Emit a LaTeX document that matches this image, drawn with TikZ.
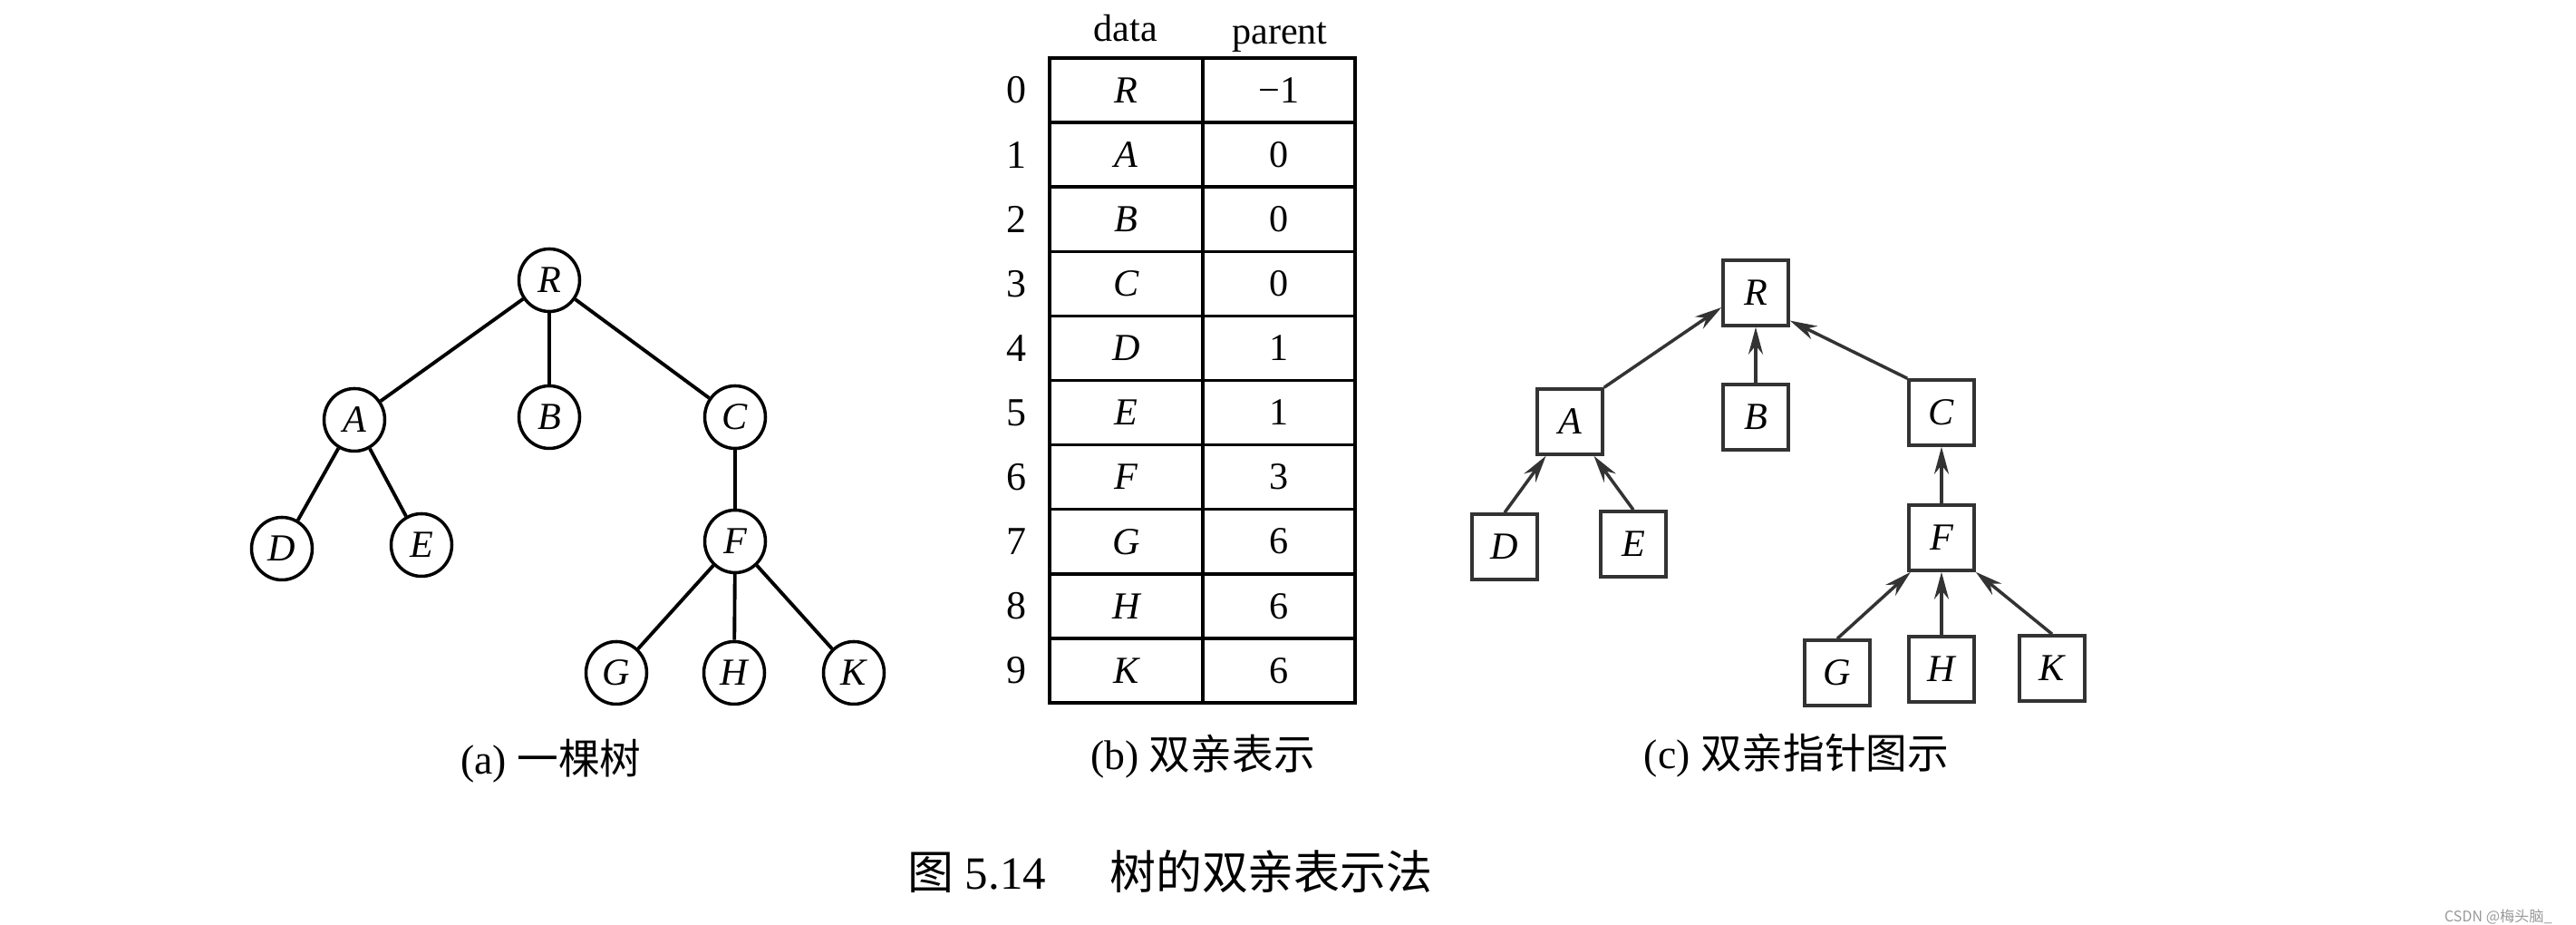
\documentclass[tikz,border=0pt]{standalone}
\usepackage{fontspec}
\setmainfont{Liberation Serif}
\newfontfamily\cjk{Noto Sans CJK SC}
\usepackage{tikz}
\usetikzlibrary{positioning,arrows.meta,shapes.geometric}
\tikzset{
  nodoa/.style={ellipse, draw, line width=1pt, minimum width=0.67cm, minimum height=0.69cm,
    inner sep=0pt, font=\fontsize{12}{14}\selectfont\itshape},
  nodoc/.style={rectangle, draw=black!80, line width=1pt, minimum width=0.72cm, minimum height=0.72cm,
    inner sep=0pt, font=\fontsize{12}{14}\selectfont\itshape},
  rama/.style={line width=1.1pt},
  puntero/.style={-{Stealth[length=3mm,width=1.6mm]}, line width=1pt, draw=black!80},
  celda/.style={rectangle, draw, line width=1pt, minimum height=0.711cm, inner sep=0pt,
    outer sep=0pt, font=\fontsize{12}{14}\selectfont},
  indice/.style={font=\fontsize{12.5}{14}\selectfont},
  cabecera/.style={font=\fontsize{12}{14}\selectfont, anchor=base},
  subtitulo/.style={font=\fontsize{13}{15}\selectfont},
  titulo/.style={font=\fontsize{14.5}{17}\selectfont},
  marca/.style={font=\fontsize{4.6}{5}\selectfont\cjk, text=black!40, anchor=east},
}
\begin{document}
\begin{tikzpicture}
  \path[use as bounding box, fill=white] (0,0) rectangle (28.42,10.20);

  \node[nodoa] (aR) at (6.06,7.11) {R};
  \node[nodoa] (aA) at (3.91,5.57) {A};
  \node[nodoa] (aB) at (6.06,5.60) {B};
  \node[nodoa] (aC) at (8.11,5.60) {C};
  \node[nodoa] (aD) at (3.11,4.15) {D};
  \node[nodoa] (aE) at (4.65,4.19) {E};
  \node[nodoa] (aF) at (8.11,4.23) {F};
  \node[nodoa] (aG) at (6.80,2.78) {G};
  \node[nodoa] (aH) at (8.10,2.78) {H};
  \node[nodoa] (aK) at (9.42,2.78) {K};
  \foreach \a/\b in {R/A,R/B,R/C,A/D,A/E,C/F,F/G,F/H,F/K}
    \draw[rama] (a\a) -- (a\b);
  \node[subtitulo] (capa) at (6.08,1.81) {(a) {\cjk 一棵树}};

  \foreach \d/\p [count=\i from 0] in {R/−1,A/0,B/0,C/0,D/1,E/1,F/3,G/6,H/6,K/6} {
    \node[celda, minimum width=1.69cm, font=\fontsize{12}{14}\selectfont\itshape]
      (d\i) at (12.425,{9.56-0.711*\i-0.3555}) {\d};
    \node[celda, minimum width=1.68cm, right=0pt of d\i] (p\i) {\p};
    \node[indice, left=0.13cm of d\i] (i\i) {\i};
  }
  \node[cabecera] (hdata) at (12.42,9.74) {data};
  \node[cabecera] (hpadre) at (14.12,9.71) {parent};
  \node[subtitulo] (capb) at (13.27,1.86) {(b) {\cjk 双亲表示}};

  \node[nodoc] (cR) at (19.37,6.97) {R};
  \node[nodoc] (cA) at (17.32,5.55) {A};
  \node[nodoc] (cB) at (19.37,5.60) {B};
  \node[nodoc] (cC) at (21.42,5.65) {C};
  \node[nodoc] (cD) at (16.60,4.17) {D};
  \node[nodoc] (cE) at (18.02,4.20) {E};
  \node[nodoc] (cF) at (21.42,4.27) {F};
  \node[nodoc] (cG) at (20.27,2.78) {G};
  \node[nodoc] (cH) at (21.42,2.82) {H};
  \node[nodoc] (cK) at (22.64,2.83) {K};
  \draw[puntero] (cA.north east) -- (cR.203);
  \draw[puntero] (cB) -- (cR);
  \draw[puntero] (cC.north west) -- (cR.321);
  \draw[puntero] (cD.north) -- (cA.235);
  \draw[puntero] (cE.north) -- (cA.305);
  \draw[puntero] (cF) -- (cC);
  \draw[puntero] (cG.north) -- (cF.228);
  \draw[puntero] (cH.north) -- (cF.south);
  \draw[puntero] (cK.north) -- (cF.south east);
  \node[subtitulo] (capc) at (19.82,1.87) {(c) {\cjk 双亲指针图示}};

  \node[titulo] (tit) at (12.91,0.59) {{\cjk 图} 5.14\hspace{0.7cm}{\cjk 树的双亲表示法}};
  \node[marca] (wm) at (28.28,0.09) {CSDN @梅头脑\_};
\end{tikzpicture}
\end{document}
